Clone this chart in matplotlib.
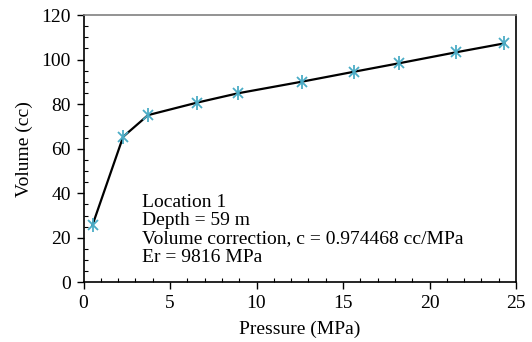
import matplotlib
matplotlib.use("Agg")
import matplotlib.pyplot as plt
from matplotlib.ticker import MultipleLocator

pressure = [0.52, 2.29, 3.73, 6.56, 8.93, 12.62, 15.66, 18.26, 21.54, 24.33]
volume = [25.8, 65.4, 75.1, 80.7, 84.9, 90.1, 94.6, 98.4, 103.3, 107.3]
annotation_lines = ["Location 1", "Depth = 59 m",
                    "Volume correction, c = 0.974468 cc/MPa", "Er = 9816 MPa"]

plt.rcParams['font.family'] = ['Liberation Serif', 'DejaVu Serif']

fig = plt.figure(figsize=(5.32, 3.42), dpi=100)
ax = fig.add_axes([0.157, 0.174, 0.813, 0.782])

ax.plot(pressure, volume, color='black', lw=1.6, zorder=2)
mc = '#4BACC6'
ax.plot(pressure, volume, ls='none', marker='x', ms=7.5, mew=1.3, color=mc, zorder=3)
ax.plot(pressure, volume, ls='none', marker='|', ms=10, mew=1.3, color=mc, zorder=3)

ax.set_xlim(0, 25)
ax.set_ylim(0, 120)
ax.xaxis.set_major_locator(MultipleLocator(5))
ax.xaxis.set_minor_locator(MultipleLocator(1))
ax.yaxis.set_major_locator(MultipleLocator(20))
ax.yaxis.set_minor_locator(MultipleLocator(5))
ax.tick_params(which='major', direction='out', length=5, width=1, labelsize=14, colors='black', pad=4)
ax.tick_params(which='minor', direction='in', length=3, width=0.8)

for s in ['left', 'bottom', 'right']:
    ax.spines[s].set_color('black')
    ax.spines[s].set_linewidth(1.2)
ax.spines['top'].set_color('#808080')
ax.spines['top'].set_linewidth(1.2)

ax.set_xlabel('Pressure (MPa)', fontsize=14, labelpad=6)
ax.set_ylabel('Volume (cc)', fontsize=14, labelpad=6)

ax.text(3.37, 39.9, "\n".join(annotation_lines), fontsize=14,
        ha='left', va='top', linespacing=1.11)

fig.savefig('out.png', dpi=100)
